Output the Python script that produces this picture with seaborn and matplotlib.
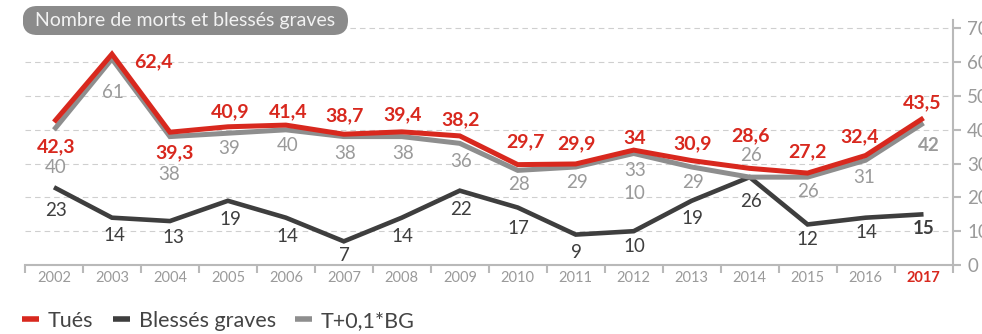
import matplotlib
matplotlib.use("Agg")
import matplotlib.pyplot as plt
from matplotlib.patches import FancyBboxPatch
from matplotlib.lines import Line2D
import pandas as pd
import seaborn as sns

# ---- data -------------------------------------------------------------
years = [str(y) for y in range(2002, 2018)]
tues = [42.3, 62.4, 39.3, 40.9, 41.4, 38.7, 39.4, 38.2, 29.7, 29.9, 34, 30.9, 28.6, 27.2, 32.4, 43.5]
blesses = [23, 14, 13, 19, 14, 7, 14, 22, 17, 9, 10, 19, 26, 12, 14, 15]
indice = [40, 61, 38, 39, 40, 38, 38, 36, 28, 29, 33, 29, 26, 26, 31, 42]
y_ticks = [0, 10, 20, 30, 40, 50, 60, 70]
series_names = ["Tués", "Blessés graves", "T+0,1*BG"]
title = "Nombre de morts et blessés graves"

# ---- label placement (pixel offsets from each point: dx right, dy down) --
tues_off = [(2, 25), (41, 8), (5, 21), (2, -15), (2, -13), (1, -18), (1, -17), (1, -16),
            (8, -23), (1, -20), (1, -12), (1, -17), (1, -33), (0, -21), (-6, -19), (-1, -15)]
indice_off = [(2, 38), (1, 34), (-1, 38), (1, 15), (2, 16), (1, 17), (1, 17), (1, 18),
              (1, 14), (1, 16), (1, 17), (1, 16), (1, -22), (0, 14), (-1, 17), (5, 22)]
blesses_off = [(2, 23), (2, 18), (3, 16), (2, 19), (2, 19), (1, 14), (1, 19), (1, 19),
               (1, 21), (1, 18), (1, 15), (1, 18), (1, 24), (0, 15), (1, 15), (0, 14)]

RED = "#d8281e"
DARK = "#3e3e3e"
GREY = "#8e8e8e"
GREY_TXT = "#9a9a9a"
AXIS = "#b9b9b9"

sns.set_theme(style="white")
plt.rcParams["font.family"] = ["Lato", "DejaVu Sans"]

W, H = 982, 334
fig = plt.figure(figsize=(W / 100, H / 100), dpi=100)
left, right, top, bottom = 25, 952.5, 20, 265
ax = fig.add_axes([left / W, 1 - bottom / H, (right - left) / W, (bottom - top) / H])

idx = list(range(len(years)))
df = pd.DataFrame({"i": idx, "tues": tues, "blesses": blesses, "indice": indice})

sns.lineplot(data=df, x="i", y="blesses", ax=ax, color=DARK, linewidth=3.3,
             solid_joinstyle="miter", solid_capstyle="butt")
sns.lineplot(data=df, x="i", y="indice", ax=ax, color=GREY, linewidth=3.6,
             solid_joinstyle="miter", solid_capstyle="butt")
sns.lineplot(data=df, x="i", y="tues", ax=ax, color=RED, linewidth=3.6,
             solid_joinstyle="miter", solid_capstyle="butt")

ax.set_xlim(-0.5, len(years) - 0.5)
ax.set_ylim(0, 72.5)
ax.set_xlabel("")
ax.set_ylabel("")

# right-hand value axis
ax.yaxis.tick_right()
ax.set_yticks(y_ticks)
ax.set_yticklabels([str(t) for t in y_ticks])
ax.tick_params(axis="y", which="major", direction="out", length=6, width=1.5,
               color=AXIS, labelcolor=GREY_TXT, labelsize=13.5, pad=4.5, right=True, left=False)
ax.grid(axis="y", color="#cfcfcf", linewidth=0.8, linestyle=(0, (5, 3.6)))
ax.grid(axis="x", visible=False)
ax.set_axisbelow(True)

# category axis: boundary ticks, labels centred between them
ax.set_xticks([i - 0.5 for i in range(len(years) + 1)])
ax.set_xticklabels([])
ax.set_xticks(idx, minor=True)
ax.set_xticklabels(years, minor=True)
ax.tick_params(axis="x", which="major", direction="out", length=6, width=1.5, color=AXIS, bottom=True)
ax.tick_params(axis="x", which="minor", length=0, pad=4, labelsize=10.5, labelcolor=GREY_TXT)
last = ax.get_xticklabels(minor=True)[-1]
last.set_color(RED)
last.set_fontweight("bold")

for side in ("left", "top"):
    ax.spines[side].set_visible(False)
for side in ("right", "bottom"):
    ax.spines[side].set_visible(True)
    ax.spines[side].set_color(AXIS)
    ax.spines[side].set_linewidth(1.5)


def fmt(v):
    return str(int(v)) if float(v).is_integer() else f"{v:.1f}".replace(".", ",")


n = len(years)
for i in idx:
    bold_last = "bold" if i == n - 1 else "normal"
    ax.annotate(fmt(tues[i]), (i, tues[i]), xytext=(tues_off[i][0], -tues_off[i][1]),
                textcoords="offset pixels", ha="center", va="center",
                color=RED, fontsize=14, fontweight="bold")
    ax.annotate(fmt(indice[i]), (i, indice[i]), xytext=(indice_off[i][0], -indice_off[i][1]),
                textcoords="offset pixels", ha="center", va="center",
                color=GREY_TXT, fontsize=13.5, fontweight=bold_last)
    ax.annotate(fmt(blesses[i]), (i, blesses[i]), xytext=(blesses_off[i][0], -blesses_off[i][1]),
                textcoords="offset pixels", ha="center", va="center",
                color=DARK, fontsize=13.5, fontweight=bold_last)

# serious-injury count repeated under the 2012 composite value
k = years.index("2012")
ax.annotate(fmt(blesses[k]), (k, indice[k]), xytext=(1, -40), textcoords="offset pixels",
            ha="center", va="center", color=GREY_TXT, fontsize=13.5)

# title pill
px0, px1, py0, py1 = 22.7, 348, 6, 35
tax = fig.add_axes([px0 / W, 1 - py1 / H, (px1 - px0) / W, (py1 - py0) / H])
tw, th = px1 - px0, py1 - py0
tax.set_xlim(0, tw)
tax.set_ylim(0, th)
tax.axis("off")
tax.add_patch(FancyBboxPatch((0, 0), tw, th, boxstyle=f"round,pad=0,rounding_size={th / 2}",
                             facecolor="#8b8b8b", edgecolor="none"))
tax.text(tw / 2, th / 2, title, ha="center", va="center", color="#f2f2f2", fontsize=14)

# legend
handles = [Line2D([], [], color=c, linewidth=4, solid_capstyle="butt")
           for c in (RED, DARK, GREY)]
fig.legend(handles, series_names, loc="lower left", bbox_to_anchor=(22 / W, 1 - 331 / H),
           ncol=3, frameon=False, fontsize=15.5, handlelength=0.8, handletextpad=0.4,
           columnspacing=0.9, borderpad=0, borderaxespad=0, labelcolor="#444444")

fig.savefig("out.png", dpi=100)
